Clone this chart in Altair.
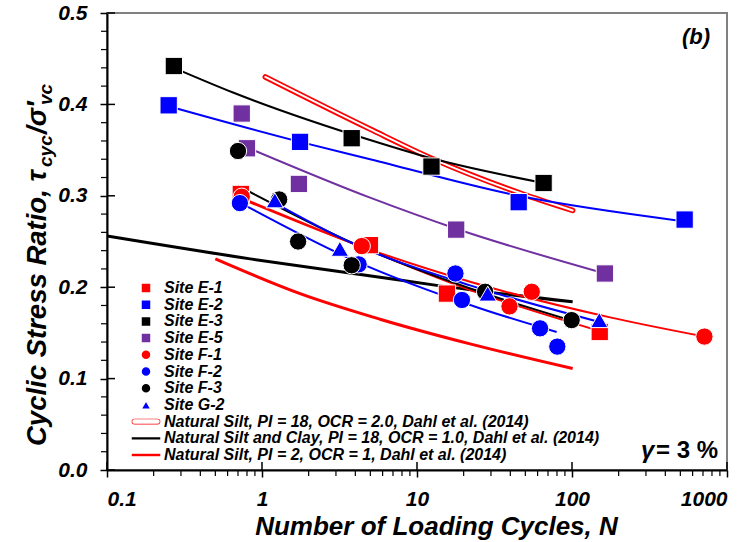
import altair as alt
import pandas as pd

FONT = "Liberation Sans"

# ---- measured cyclic test results: number of cycles N and cyclic stress ratio ----
sites = ["Site E-1", "Site E-2", "Site E-3", "Site E-5",
         "Site F-1", "Site F-2", "Site F-3", "Site G-2"]
site_colors = ["#FF0000", "#0000FF", "#000000", "#7030A0",
               "#FF0000", "#0000FF", "#000000", "#0000FF"]
site_shapes = ["square", "square", "square", "square",
               "circle", "circle", "circle", "triangle-up"]

e1_n = [0.73, 4.97, 15.6, 151]
e1_csr = [0.302, 0.246, 0.193, 0.151]
e2_n = [0.25, 1.76, 45.3, 533]
e2_csr = [0.399, 0.359, 0.293, 0.274]
e3_n = [0.27, 3.79, 12.4, 65.6]
e3_csr = [0.442, 0.363, 0.332, 0.314]
e5_n = [0.74, 0.80, 1.73, 17.9, 163]
e5_csr = [0.390, 0.352, 0.313, 0.263, 0.215]
f1_n = [0.74, 4.4, 39.5, 55, 715]
f1_csr = [0.299, 0.245, 0.179, 0.195, 0.146]
f2_n = [0.72, 4.2, 17.7, 19.5, 62.2, 80.4]
f2_csr = [0.292, 0.225, 0.215, 0.186, 0.155, 0.135]
f3_n = [0.70, 1.29, 1.71, 3.79, 27.5, 99.5]
f3_csr = [0.349, 0.296, 0.250, 0.224, 0.195, 0.164]
g2_n = [1.21, 3.18, 28.6, 150]
g2_csr = [0.295, 0.242, 0.193, 0.164]

# ---- fitted trend curves for each site ----
e1_fit_n = [0.73, 4.5, 22, 144]
e1_fit_csr = [0.298, 0.243, 0.197, 0.153]
e2_fit_n = [0.25, 1.76, 4.98, 45.3, 533]
e2_fit_csr = [0.398, 0.359, 0.340, 0.300, 0.272]
e3_fit_n = [0.27, 0.65, 4.98, 12.4, 65.6]
e3_fit_csr = [0.440, 0.413, 0.361, 0.341, 0.314]
e5_fit_n = [0.80, 4.98, 17.9, 163]
e5_fit_csr = [0.353, 0.298, 0.264, 0.215]
f1_fit_n = [0.73, 4.3, 22, 176, 715]
f1_fit_csr = [0.297, 0.245, 0.206, 0.167, 0.146]
f2_fit_n = [0.73, 3.72, 25.4, 79.6]
f2_fit_csr = [0.292, 0.231, 0.177, 0.151]
f3_fit_n = [0.70, 4.0, 25.4, 97]
f3_fit_csr = [0.311, 0.247, 0.195, 0.164]
g2_fit_n = [1.18, 3.72, 22, 150]
g2_fit_csr = [0.293, 0.249, 0.202, 0.162]

# ---- Dahl et al. (2014) reference curves ----
dahl_names = ["Natural Silt, PI = 18, OCR = 2.0, Dahl et al. (2014)",
              "Natural Silt and Clay, PI = 18, OCR = 1.0, Dahl et al. (2014)",
              "Natural Silt, PI = 2, OCR = 1, Dahl et al. (2014)"]
dahl1_n = [1.05, 4.98, 12.4, 46.2, 101]
dahl1_csr = [0.430, 0.373, 0.341, 0.303, 0.284]
dahl2_n = [0.1, 0.84, 5.77, 13.4, 101]
dahl2_csr = [0.256, 0.231, 0.211, 0.202, 0.184]
dahl3_n = [0.5, 1.76, 5.77, 22, 101]
dahl3_csr = [0.231, 0.193, 0.165, 0.138, 0.111]

# axis ticks
x_major = [0.1, 1, 10, 100, 1000]
x_minor = [0.2, 0.3, 0.4, 0.5, 0.6, 0.7, 0.8, 0.9,
           2, 3, 4, 5, 6, 7, 8, 9,
           20, 30, 40, 50, 60, 70, 80, 90,
           200, 300, 400, 500, 600, 700, 800, 900]
y_major = [0.0, 0.1, 0.2, 0.3, 0.4, 0.5]
y_minor = [0.02, 0.04, 0.06, 0.08, 0.12, 0.14, 0.16, 0.18,
           0.22, 0.24, 0.26, 0.28, 0.32, 0.34, 0.36, 0.38,
           0.42, 0.44, 0.46, 0.48]


def frame(groups):
    rows = []
    for name, ns, cs in groups:
        for n, c in zip(ns, cs):
            rows.append({"series": name, "N": n, "CSR": c})
    return pd.DataFrame(rows)


points = frame([
    ("Site E-1", e1_n, e1_csr), ("Site E-2", e2_n, e2_csr),
    ("Site E-3", e3_n, e3_csr), ("Site E-5", e5_n, e5_csr),
    ("Site F-1", f1_n, f1_csr), ("Site F-2", f2_n, f2_csr),
    ("Site F-3", f3_n, f3_csr), ("Site G-2", g2_n, g2_csr),
])
fits = frame([
    ("Site E-1", e1_fit_n, e1_fit_csr), ("Site E-2", e2_fit_n, e2_fit_csr),
    ("Site E-3", e3_fit_n, e3_fit_csr), ("Site E-5", e5_fit_n, e5_fit_csr),
    ("Site F-1", f1_fit_n, f1_fit_csr), ("Site F-2", f2_fit_n, f2_fit_csr),
    ("Site F-3", f3_fit_n, f3_fit_csr), ("Site G-2", g2_fit_n, g2_fit_csr),
])
dahl1 = frame([(dahl_names[0], dahl1_n, dahl1_csr)])
dahl2 = frame([(dahl_names[1], dahl2_n, dahl2_csr)])
dahl3 = frame([(dahl_names[2], dahl3_n, dahl3_csr)])

xs = alt.Scale(type="log", domain=[0.1, 1000], nice=False)
ys = alt.Scale(domain=[0, 0.5], nice=False, zero=False)

x_axis = alt.Axis(
    values=x_major, format="~g", tickSize=7, labelPadding=11,
    title="Number of Loading Cycles, N", titleFontSize=26, titleFont=FONT,
    titleFontWeight="bold", titleFontStyle="italic", titleColor="black",
    titleX=329, titleY=64, titleAlign="center", titleBaseline="alphabetic",
)
y_axis = alt.Axis(values=y_major, format=".1f", tickSize=7, labelPadding=13,
                  title=None)

X = alt.X("N:Q", scale=xs, axis=x_axis)
Y = alt.Y("CSR:Q", scale=ys, axis=y_axis)

# legend glyphs for the reference curves (unit box scaled by symbol size)
capsule = ("M-2.3,-0.72 L2.3,-0.72 A0.72,0.72 0 0 1 2.3,0.72 L-2.3,0.72 "
           "A0.72,0.72 0 0 1 -2.3,-0.72 Z "
           "M-2.3,-0.3 A0.3,0.3 0 0 0 -2.3,0.3 L2.3,0.3 "
           "A0.3,0.3 0 0 0 2.3,-0.3 Z")
bar = "M-3,-0.38 L3,-0.38 L3,0.38 L-3,0.38 Z"

legend_domain = sites + dahl_names
legend_colors = site_colors + ["#FF0000", "#000000", "#FF0000"]
legend_shapes = site_shapes + [capsule, bar, bar]

legend = alt.Legend(
    orient="none", legendX=31, legendY=267, title=None, padding=0,
    rowPadding=0.7, labelOffset=10, labelFontSize=16, labelFont=FONT,
    labelFontWeight="bold", labelFontStyle="italic", labelColor="black",
    symbolSize=100, labelLimit=700,
)

# Dahl et al. reference curves
dahl1_outer = alt.Chart(dahl1).mark_line(
    color="#FF0000", strokeWidth=5.5, strokeCap="round", interpolate="monotone"
).encode(x=X, y=Y)
dahl1_inner = alt.Chart(dahl1).mark_line(
    color="white", strokeWidth=2, strokeCap="round", interpolate="monotone"
).encode(x=X, y=Y)
dahl2_line = alt.Chart(dahl2).mark_line(
    color="#000000", strokeWidth=3, interpolate="monotone"
).encode(x=X, y=Y)
dahl3_line = alt.Chart(dahl3).mark_line(
    color="#FF0000", strokeWidth=3, interpolate="monotone"
).encode(x=X, y=Y)

# site trend curves
fit_lines = alt.Chart(fits).mark_line(strokeWidth=2, interpolate="monotone").encode(
    x=X, y=Y,
    stroke=alt.Stroke("series:N", scale=alt.Scale(domain=sites, range=site_colors),
                      legend=None),
    detail="series:N",
)

# measured points (drawn in site order)
site_points = alt.Chart(points).mark_point(
    filled=True, size=300, stroke="white", strokeWidth=1, opacity=1
).encode(
    x=X, y=Y,
    fill=alt.Fill("series:N", scale=alt.Scale(domain=legend_domain, range=legend_colors),
                  legend=legend),
    shape=alt.Shape("series:N", scale=alt.Scale(domain=legend_domain, range=legend_shapes),
                    legend=legend),
    order=alt.Order("idx:Q"),
).transform_window(idx="row_number()")

# tick marks that cross into the plot and minor ticks
y_major_in = alt.Chart(pd.DataFrame({"CSR": y_major})).mark_rule(
    color="black", strokeWidth=1.5
).encode(y=Y, x=alt.value(0), x2=alt.value(8))
y_minor_out = alt.Chart(pd.DataFrame({"CSR": y_minor})).mark_rule(
    color="black", strokeWidth=1.2
).encode(y=Y, x=alt.value(-6), x2=alt.value(0))
x_major_in = alt.Chart(pd.DataFrame({"N": x_major})).mark_rule(
    color="black", strokeWidth=1.5
).encode(x=X, y=alt.value(449), y2=alt.value(457))
x_minor_out = alt.Chart(pd.DataFrame({"N": x_minor})).mark_rule(
    color="black", strokeWidth=1.2
).encode(x=X, y=alt.value(457), y2=alt.value(463))

# grey frame on the top and right of the plot area
frame_top = alt.Chart(pd.DataFrame({"k": [0]})).mark_rule(
    color="#808080", strokeWidth=2
).encode(x=alt.value(0), x2=alt.value(620), y=alt.value(0))
frame_right = alt.Chart(pd.DataFrame({"k": [0]})).mark_rule(
    color="#808080", strokeWidth=2
).encode(x=alt.value(620), y=alt.value(0), y2=alt.value(457))


def label(text, x, y, size, italic=True, angle=0, align="left", baseline="alphabetic"):
    props = dict(font=FONT, fontSize=size, fontWeight="bold", color="black",
                 align=align, baseline=baseline)
    if italic:
        props["fontStyle"] = "italic"
    if angle:
        props["angle"] = angle
    return alt.Chart(pd.DataFrame({"t": [text]})).mark_text(**props).encode(
        x=alt.value(x), y=alt.value(y), text="t:N")


# y-axis title with subscripts, reading upward
y_title = [
    label("Cyclic Stress Ratio, \u03c4", -61, 433, 27.5, angle=270),
    label("cyc", -55, 154, 19, angle=270),
    label("/\u03c3\u2032", -61, 121, 27.5, angle=270),
    label("vc", -55, 92, 19, angle=270),
]
panel_tag = label("(b)", 589, 31, 22, align="center")
gamma = label("\u03b3", 534, 445, 24)
gamma_val = label("= 3 %", 549, 445, 24, italic=False)

chart = alt.layer(
    frame_top, frame_right,
    dahl2_line, dahl3_line, dahl1_outer, dahl1_inner,
    fit_lines, site_points,
    y_major_in, y_minor_out, x_major_in, x_minor_out,
    *y_title, panel_tag, gamma, gamma_val,
).properties(
    width=620, height=457,
    autosize=alt.AutoSizeParams(type="none"),
    padding={"left": 107, "top": 13, "right": 24, "bottom": 72},
).configure_view(
    stroke="#808080", strokeWidth=2
).configure_axis(
    grid=False, domainColor="black", domainWidth=2, tickColor="black",
    tickWidth=1.5, labelFont=FONT, labelFontSize=21, labelFontWeight="bold",
    labelFontStyle="italic", labelColor="black",
)

chart.save("out.html", embed_options={"renderer": "svg", "actions": False})
